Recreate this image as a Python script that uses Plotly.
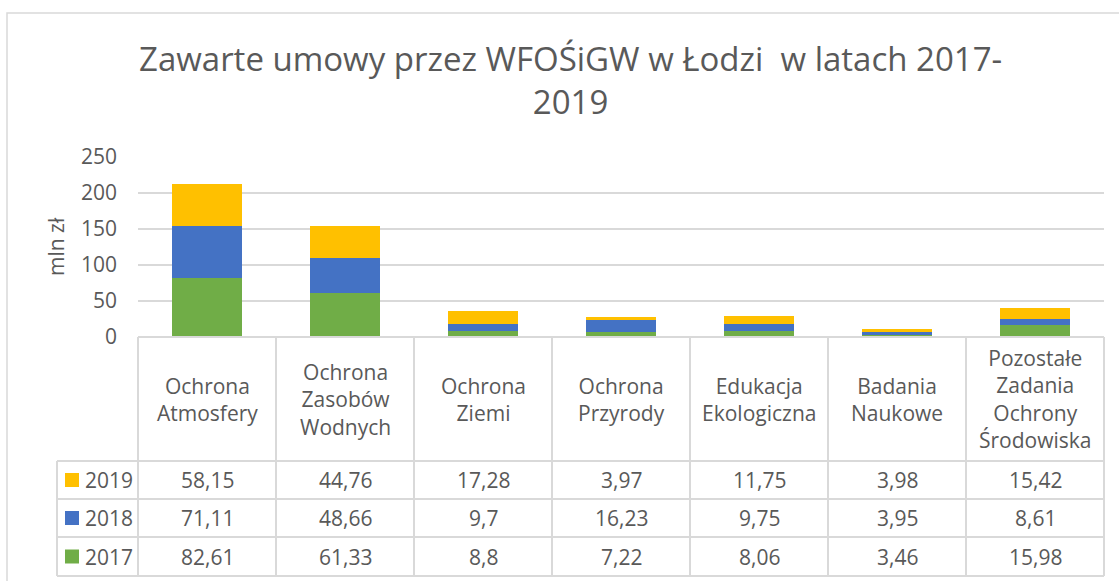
import plotly.graph_objects as go

categories = ["Ochrona Atmosfery", "Ochrona Zasobów Wodnych", "Ochrona Ziemi",
              "Ochrona Przyrody", "Edukacja Ekologiczna", "Badania Naukowe",
              "Pozostałe Zadania Ochrony Środowiska"]
years = ["2017", "2018", "2019"]
v2017 = [82.61, 61.33, 8.8, 7.22, 8.06, 3.46, 15.98]
v2018 = [71.11, 48.66, 9.7, 16.23, 9.75, 3.95, 8.61]
v2019 = [58.15, 44.76, 17.28, 3.97, 11.75, 3.98, 15.42]
series = {"2017": v2017, "2018": v2018, "2019": v2019}
colors = {"2017": "#70AD47", "2018": "#4472C4", "2019": "#FFC000"}
y_ticks = [0, 50, 100, 150, 200, 250]
title_text = "Zawarte umowy przez WFOŚiGW w Łodzi\u00a0 w latach 2017-<br>2019"
y_title = "mln zł"

W, H = 1119, 581
L, R, T, B = 138, 1104, 157, 337
FONT = "Open Sans, sans-serif"
TXT = "#595959"
GRID = "#D9D9D9"
FS = 21


def px(x):
    return (x - L) / (R - L)


def py(y):
    return (B - y) / (B - T)


fig = go.Figure()
for yr in years:
    fig.add_trace(go.Bar(x=categories, y=series[yr], name=yr,
                         marker=dict(color=colors[yr], line=dict(width=0)),
                         hoverinfo="skip", showlegend=False))

shapes = []
annotations = []

# chart border (only left/top visible)
shapes.append(dict(type="rect", xref="paper", yref="paper",
                   x0=px(7), x1=px(1130), y0=py(13), y1=py(600),
                   line=dict(color=GRID, width=1.5), layer="below"))

# table geometry
row_lines = [337, 461, 499, 537, 576]
left_x = 57
ncat = len(categories)
col_w = (R - L) / ncat

shapes.append(dict(type="line", xref="paper", yref="paper",
                   x0=px(L), x1=px(R), y0=py(337), y1=py(337),
                   line=dict(color=GRID, width=2)))
for yl in row_lines[1:]:
    shapes.append(dict(type="line", xref="paper", yref="paper",
                       x0=px(left_x), x1=px(R), y0=py(yl), y1=py(yl),
                       line=dict(color=GRID, width=2)))
for i in range(ncat + 1):
    xx = L + i * col_w
    shapes.append(dict(type="line", xref="paper", yref="paper",
                       x0=px(xx), x1=px(xx), y0=py(337), y1=py(576),
                       line=dict(color=GRID, width=2)))
shapes.append(dict(type="line", xref="paper", yref="paper",
                   x0=px(left_x), x1=px(left_x), y0=py(461), y1=py(576),
                   line=dict(color=GRID, width=2)))

# category labels
for cat in categories:
    annotations.append(dict(x=cat, xref="x", y=py(399), yref="paper",
                            text="<br>".join(cat.split()), showarrow=False,
                            font=dict(family=FONT, size=FS, color=TXT),
                            xanchor="center", yanchor="middle"))

# rows
row_years = ["2019", "2018", "2017"]
for r, yr in enumerate(row_years):
    yc = (row_lines[r + 1] + row_lines[r + 2]) / 2
    shapes.append(dict(type="rect", xref="paper", yref="paper",
                       x0=px(65), x1=px(79), y0=py(yc - 7), y1=py(yc + 7),
                       fillcolor=colors[yr], line=dict(width=0)))
    annotations.append(dict(x=px(83), xref="paper", y=py(yc), yref="paper",
                            text=yr, showarrow=False,
                            font=dict(family=FONT, size=FS, color=TXT),
                            xanchor="left", yanchor="middle"))
    for cat, v in zip(categories, series[yr]):
        annotations.append(dict(x=cat, xref="x", y=py(yc), yref="paper",
                                text=str(v).replace(".", ","), showarrow=False,
                                font=dict(family=FONT, size=FS, color=TXT),
                                xanchor="center", yanchor="middle"))

# title
annotations.append(dict(x=px(570), xref="paper", y=py(80), yref="paper",
                        text=title_text, showarrow=False,
                        font=dict(family=FONT, size=33, color=TXT),
                        xanchor="center", yanchor="middle"))
# y axis title
annotations.append(dict(x=px(56), xref="paper", y=py(247), yref="paper",
                        text=y_title, showarrow=False, textangle=-90,
                        font=dict(family=FONT, size=FS, color=TXT),
                        xanchor="center", yanchor="middle"))

fig.update_layout(
    width=W, height=H,
    margin=dict(l=L, r=W - R, t=T, b=H - B, pad=0),
    barmode="stack", bargap=0.49,
    plot_bgcolor="white", paper_bgcolor="white",
    showlegend=False,
    shapes=shapes, annotations=annotations,
    xaxis=dict(range=[-0.5, ncat - 0.5], showticklabels=False, showgrid=False,
               zeroline=False, showline=False, ticks=""),
    yaxis=dict(range=[0, 250], tickvals=y_ticks, showgrid=True, gridcolor=GRID,
               gridwidth=1.5, zeroline=False, showline=False, ticks="",
               ticklabelstandoff=20,
               tickfont=dict(family=FONT, size=FS, color=TXT)),
)

fig.write_html("out.html", config={"displayModeBar": False},
               post_script="document.body.style.margin='0';document.body.style.overflow='hidden';")
